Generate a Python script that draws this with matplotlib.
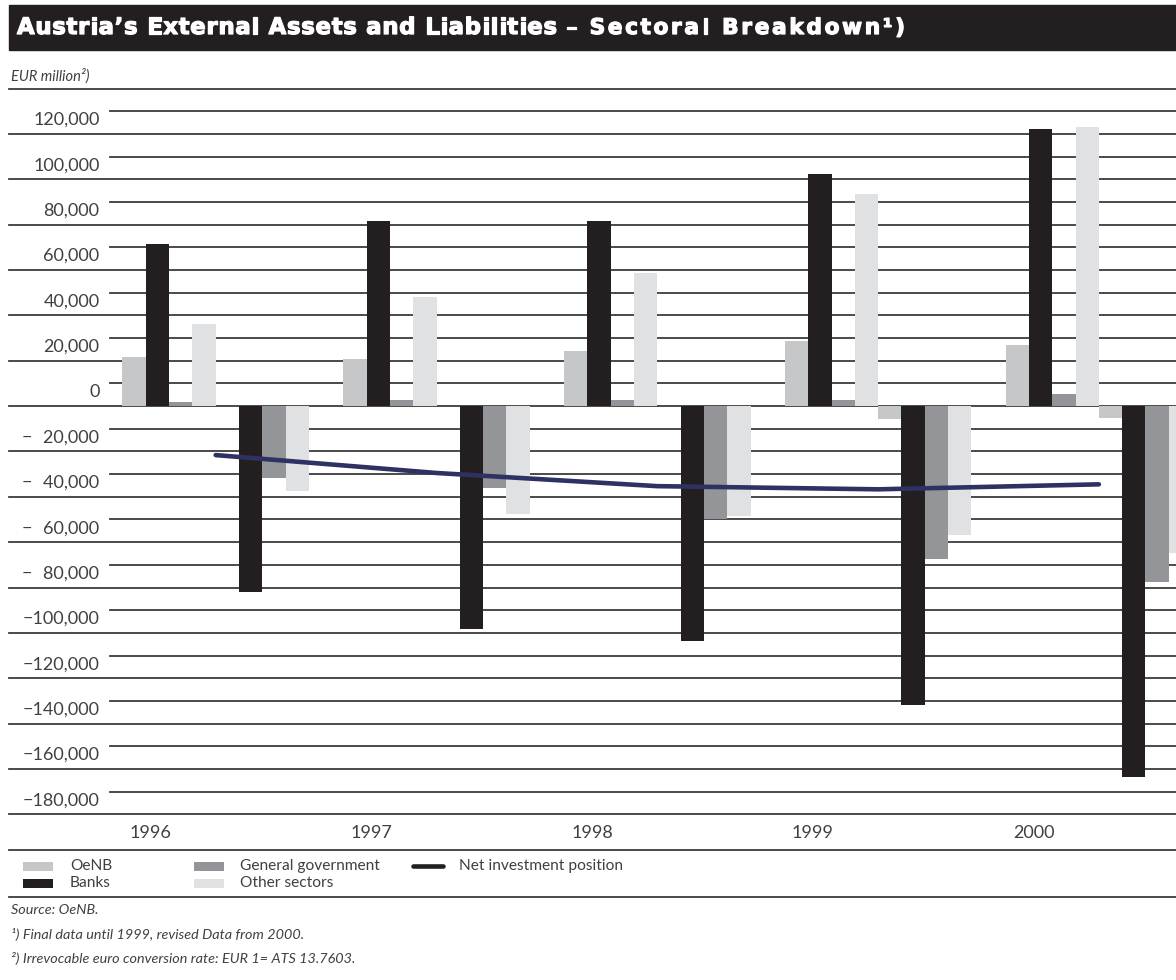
import matplotlib
matplotlib.use("Agg")
import matplotlib.pyplot as plt
from matplotlib.lines import Line2D
from matplotlib.patches import Rectangle
import matplotlib.transforms as mtransforms
import matplotlib.patheffects as pe

# ---------------- data (EUR million) ----------------
years = ['1996', '1997', '1998', '1999', '2000']
oenb_assets = [21700, 20700, 24300, 28700, 26900]
banks_assets = [71500, 81600, 81600, 102300, 122200]
gov_assets = [1800, 2600, 2600, 2600, 5300]
other_assets = [36300, 48200, 58800, 93500, 123100]
oenb_liab = [0, 0, 0, -5900, -5100]
banks_liab = [-82000, -98200, -103600, -131600, -163400]
gov_liab = [-31800, -36100, -49900, -67400, -77400]
other_liab = [-37500, -47600, -48400, -56900, -64600]
net_position = [-21600, -29500, -35300, -36700, -34500]

sector_names = ['OeNB', 'Banks', 'General government', 'Other sectors']
sector_colors = ['#c6c7c9', '#231f20', '#939598', '#e0e1e3']
net_color = '#2e3163'
ytick_values = list(range(120000, -180001, -20000))
text_color = '#404040'

# ---------------- layout ----------------
W, H = 1176, 980
fig = plt.figure(figsize=(W / 100, H / 100), dpi=100)
plt.rcParams['font.family'] = ['Lato', 'DejaVu Sans']


def fx(px):
    return px / W


def fy(py):
    return 1 - py / H


top_px, bot_px = 88.6, 814.3
ax = fig.add_axes([0, fy(bot_px), 1, (bot_px - top_px) / H])
ax.set_ylim(-180000, 140000)
slot_px = 220.8
start_px = 122.5
x0 = -start_px / slot_px
ax.set_xlim(x0, x0 + W / slot_px)
ax.axis('off')

bw = 23.3 / slot_px

# grid lines
for v in range(-180000, 140001, 10000):
    xmin = fx(9) if v % 20000 == 0 else fx(110)
    ax.axhline(v, xmin=xmin, xmax=1, color='#3c3c3c', lw=1.3, zorder=1, clip_on=False)

# bars
assets = [oenb_assets, banks_assets, gov_assets, other_assets]
liabs = [oenb_liab, banks_liab, gov_liab, other_liab]
xs = list(range(len(years)))
for k in range(4):
    ax.bar([i + k * bw for i in xs], assets[k], width=bw, align='edge',
           color=sector_colors[k], zorder=2, linewidth=0)
    ax.bar([i + (4 + k) * bw for i in xs], liabs[k], width=bw, align='edge',
           color=sector_colors[k], zorder=2, linewidth=0)

# net investment position
ax.plot([i + 4 * bw for i in xs], net_position, color=net_color, lw=3.3,
        zorder=3, solid_capstyle='round')

# y tick labels (placed just above their grid line)
lab_trans = mtransforms.offset_copy(
    mtransforms.blended_transform_factory(fig.transFigure, ax.transData),
    fig=fig, x=0, y=14, units='dots')
for v in ytick_values:
    if v >= 0:
        s = f"{v:,}"
    elif v > -100000:
        s = "\u2212\u2007" + f"{-v:,}"
    else:
        s = "\u2212" + f"{-v:,}"
    ax.text(fx(99.5), v, s, transform=lab_trans, ha='right', va='center',
            fontsize=13, color=text_color)

# year labels
yr_trans = mtransforms.blended_transform_factory(ax.transData, fig.transFigure)
for i, y in enumerate(years):
    ax.text(i + 28 / slot_px, fy(833), y, transform=yr_trans, ha='center',
            va='center', fontsize=13, color=text_color)

# ---------------- figure-level decorations ----------------
fig.add_artist(Rectangle((fx(9), fy(50)), 1 - fx(9), (50 - 5) / H,
                         transform=fig.transFigure, color='#231f20', zorder=0))

renderer = fig.canvas.get_renderer()


def text_width(s, size):
    t = fig.text(0, 0, s + "x", fontsize=size, fontweight='bold', family=['DejaVu Sans'])
    t2 = fig.text(0, 0, "x", fontsize=size, fontweight='bold', family=['DejaVu Sans'])
    w = t.get_window_extent(renderer).width - t2.get_window_extent(renderer).width
    t.remove()
    t2.remove()
    return w


def tracked_text(s, x_px, y_px, size, end_px):
    natural = text_width(s, size)
    track = (end_px - x_px - natural) / max(len(s) - 1, 1)
    for i, ch in enumerate(s):
        if ch == ' ':
            continue
        xp = x_px + text_width(s[:i], size) + i * track
        fig.text(fx(xp), fy(y_px), ch, color='white', fontsize=size, fontweight='bold',
                 va='baseline', ha='left', family=['DejaVu Sans'],
                 path_effects=[pe.withStroke(linewidth=0.9, foreground='white')])


tracked_text("Austria\u2019s External Assets and Liabilities", 17, 34, 16.4, 557)
tracked_text("\u2013 Sectoral Breakdown\u00b9)", 566, 34, 15.6, 905)

fig.text(fx(11), fy(76), "EUR million\u00b2)", fontsize=10.5, style='italic',
         color=text_color, va='center', ha='left')

for py in (850, 897):
    fig.add_artist(Line2D([fx(9), 1], [fy(py), fy(py)], color='#3c3c3c', lw=1.3,
                          transform=fig.transFigure))

# legend
leg = [(0, 23, 866, 70), (1, 23, 883, 70), (2, 194, 866, 240), (3, 194, 883, 240)]
for k, px, py, tx in leg:
    fig.add_artist(Rectangle((fx(px), fy(py + 4.5)), 30 / W, 9 / H,
                             transform=fig.transFigure, color=sector_colors[k], lw=0))
    fig.text(fx(tx), fy(py), sector_names[k], fontsize=11.2, color=text_color,
             va='center', ha='left')
fig.add_artist(Line2D([fx(413), fx(443)], [fy(866), fy(866)], color='#231f20', lw=3.3,
                      transform=fig.transFigure, solid_capstyle='round'))
fig.text(fx(459), fy(866), "Net investment position", fontsize=11.2, color=text_color,
         va='center', ha='left')

# footnotes
notes = ["Source: OeNB.",
         "\u00b9) Final data until 1999, revised Data from 2000.",
         "\u00b2) Irrevocable euro conversion rate: EUR 1= ATS 13.7603."]
for s, py in zip(notes, (910, 934, 958)):
    fig.text(fx(11), fy(py), s, fontsize=10.4, style='italic', color=text_color,
             va='center', ha='left')

fig.savefig("out.png", dpi=100)
